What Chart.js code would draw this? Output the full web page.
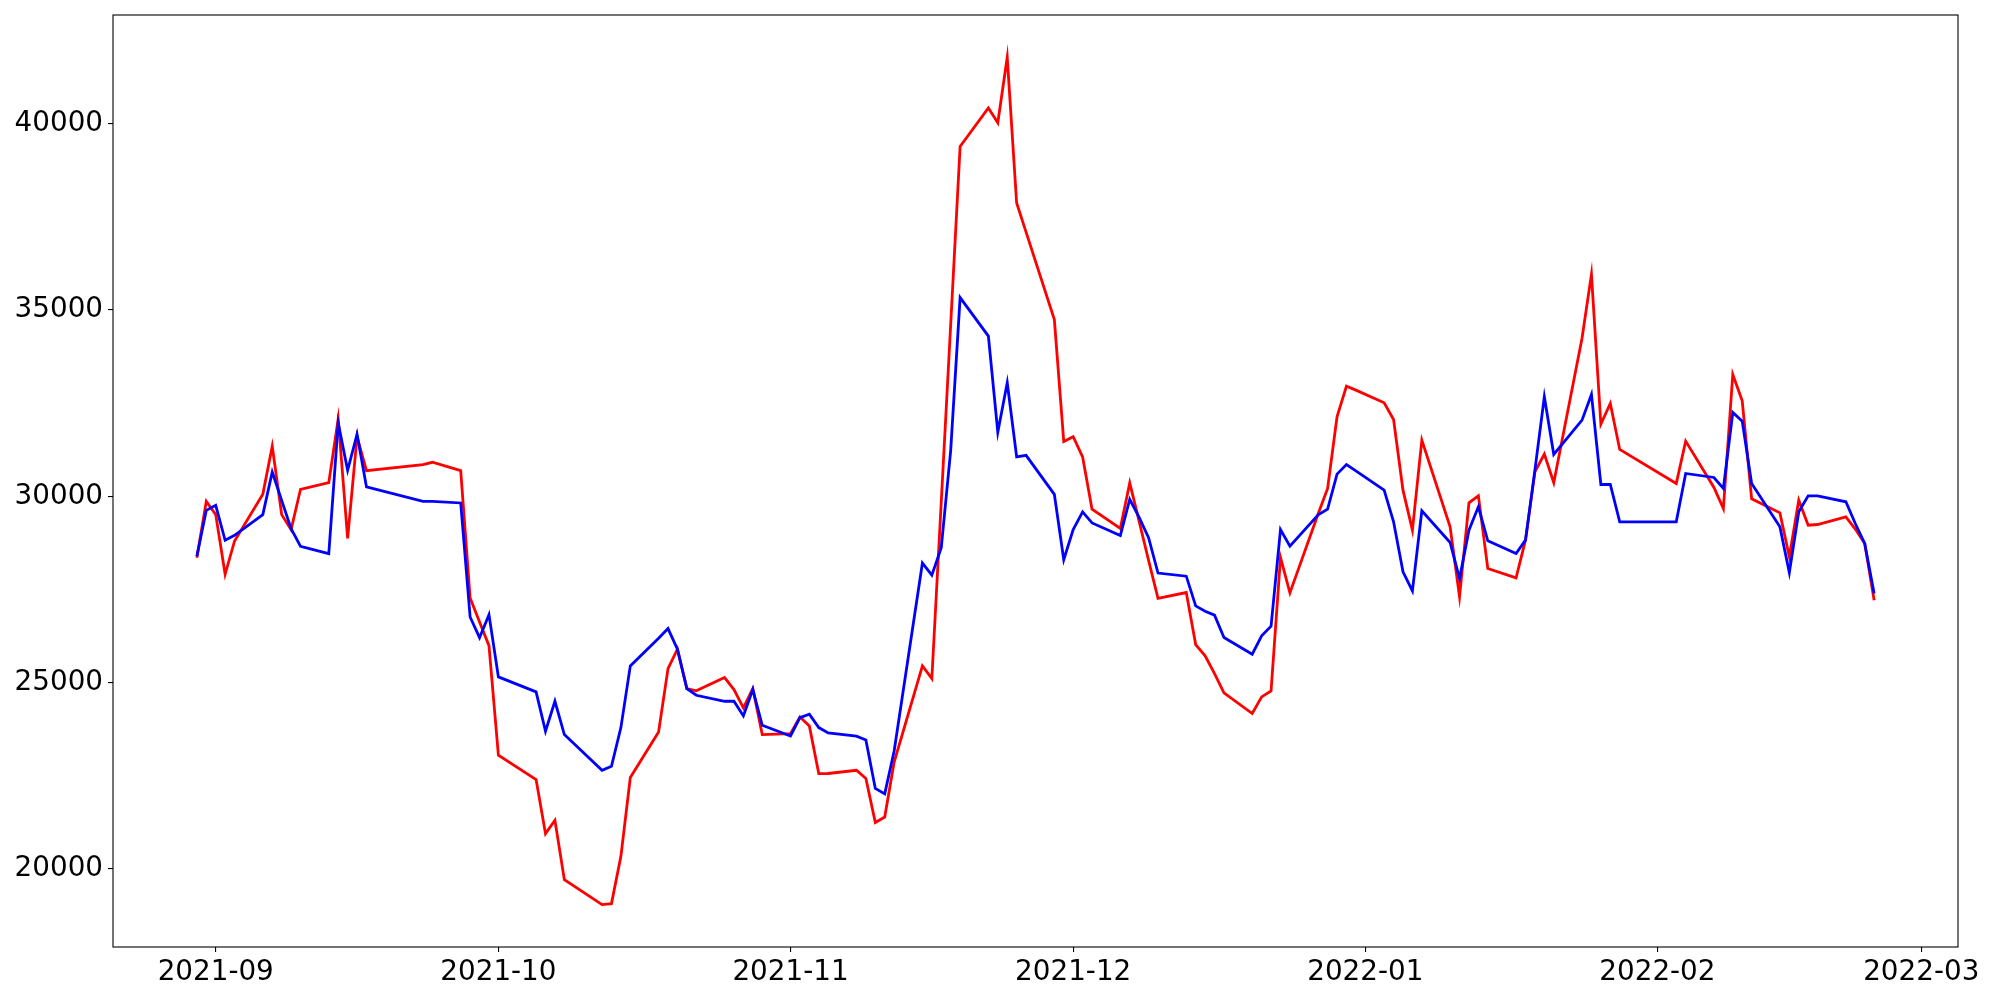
<!DOCTYPE html>
<html lang="en">

<head>
  <meta charset="UTF-8">
  <title>Chart</title>
  <script src="https://cdn.jsdelivr.net/npm/chart.js@4.4.0/dist/chart.umd.min.js"></script>
  <style>
    body { margin: 0; background: #fff; }
  </style>
</head>

<body>
  <canvas id="chart" width="2000" height="1000"></canvas>
</body>

<script>
  // trading days
  const dates = [
    '2021-08-30', '2021-08-31', '2021-09-01', '2021-09-02', '2021-09-03',
    '2021-09-06', '2021-09-07', '2021-09-08', '2021-09-09', '2021-09-10',
    '2021-09-13', '2021-09-14', '2021-09-15', '2021-09-16', '2021-09-17',
    '2021-09-23', '2021-09-24', '2021-09-27', '2021-09-28', '2021-09-29',
    '2021-09-30', '2021-10-01', '2021-10-05', '2021-10-06', '2021-10-07',
    '2021-10-08', '2021-10-12', '2021-10-13', '2021-10-14', '2021-10-15',
    '2021-10-18', '2021-10-19', '2021-10-20', '2021-10-21', '2021-10-22',
    '2021-10-25', '2021-10-26', '2021-10-27', '2021-10-28', '2021-10-29',
    '2021-11-01', '2021-11-02', '2021-11-03', '2021-11-04', '2021-11-05',
    '2021-11-08', '2021-11-09', '2021-11-10', '2021-11-11', '2021-11-12',
    '2021-11-15', '2021-11-16', '2021-11-17', '2021-11-18', '2021-11-19',
    '2021-11-22', '2021-11-23', '2021-11-24', '2021-11-25', '2021-11-26',
    '2021-11-29', '2021-11-30', '2021-12-01', '2021-12-02', '2021-12-03',
    '2021-12-06', '2021-12-07', '2021-12-08', '2021-12-09', '2021-12-10',
    '2021-12-13', '2021-12-14', '2021-12-15', '2021-12-16', '2021-12-17',
    '2021-12-20', '2021-12-21', '2021-12-22', '2021-12-23', '2021-12-24',
    '2021-12-27', '2021-12-28', '2021-12-29', '2021-12-30', '2021-12-31',
    '2022-01-03', '2022-01-04', '2022-01-05', '2022-01-06', '2022-01-07',
    '2022-01-10', '2022-01-11', '2022-01-12', '2022-01-13', '2022-01-14',
    '2022-01-17', '2022-01-18', '2022-01-19', '2022-01-20', '2022-01-21',
    '2022-01-24', '2022-01-25', '2022-01-26', '2022-01-27', '2022-01-28',
    '2022-02-03', '2022-02-04', '2022-02-07', '2022-02-08', '2022-02-09',
    '2022-02-10', '2022-02-11', '2022-02-14', '2022-02-15', '2022-02-16',
    '2022-02-17', '2022-02-18', '2022-02-21', '2022-02-22', '2022-02-23',
    '2022-02-24'
  ];

  const redValues = [
    28353, 29866, 29508, 27906, 28801,
    30054, 31343, 29508, 29105, 30188,
    30367, 32085, 28872, 31600, 30689,
    30850, 30913, 30689, 27270, 26626,
    25990, 23049, 22396, 20946, 21304,
    19711, 19040, 19067, 20337, 22450,
    23676, 25376, 25896, 24839, 24777,
    25135, 24812, 24320, 24839, 23604,
    23631, 24078, 23837, 22557, 22560,
    22646, 22425, 21245, 21392, 22867,
    25449, 25110, 29860, 34611, 39391,
    40423, 40025, 41781, 37871, 37089,
    34744, 31468, 31601, 31055, 29654,
    29137, 30359, 29329, 28281, 27260,
    27417, 26021, 25717, 25240, 24723,
    24169, 24616, 24777, 28357, 27408,
    29530, 30210, 32134, 32957, 32850,
    32510, 32062, 30165, 29091, 31508,
    29181, 27301, 29825, 30013, 28062,
    27811, 28823, 30657, 31132, 30362,
    34240, 35956, 31937, 32492, 31257,
    30344, 31481, 30237, 29673, 33271,
    32564, 29932, 29556, 28375, 29896,
    29225, 29243, 29449, 29120, 28733,
    27212
  ];

  const blueValues = [
    28389, 29624, 29758, 28819, 28953,
    29508, 30653, 29890, 29130, 28657,
    28460, 31969, 30698, 31665, 30250,
    29866, 29866, 29821, 26760, 26205,
    26823, 25153, 24750, 23694, 24499,
    23604, 22647, 22754, 23792, 25448,
    26191, 26450, 25896, 24839, 24660,
    24499, 24499, 24105, 24812, 23855,
    23568, 24060, 24150, 23792, 23650,
    23561, 23458, 22159, 22012, 23163,
    28208, 27883, 28621, 31233, 35334,
    34301, 31719, 33047, 31055, 31100,
    30052, 28296, 29108, 29580, 29285,
    28946, 29919, 29432, 28887, 27940,
    27856, 27059, 26916, 26809, 26209,
    25762, 26254, 26513, 29109, 28661,
    29500, 29655, 30595, 30854, 30684,
    30165, 29315, 27972, 27462, 29610,
    28760, 27793, 29091, 29718, 28805,
    28465, 28823, 30702, 32671, 31123,
    32044, 32734, 30317, 30317, 29315,
    29315, 30613, 30505, 30210, 32250,
    32018, 30344, 29180, 27954, 29583,
    30013, 30013, 29852, 29270, 28733,
    27390
  ];

  const monthTicks = [
    '2021-09-01', '2021-10-01', '2021-11-01', '2021-12-01',
    '2022-01-01', '2022-02-01', '2022-03-01'
  ];
  const yTicks = [20000, 25000, 30000, 35000, 40000];

  function toDay(s) {
    const p = s.split('-');
    return Date.UTC(+p[0], +p[1] - 1, +p[2]) / 86400000;
  }

  function fmtDay(d) {
    const dt = new Date(d * 86400000);
    const m = dt.getUTCMonth() + 1;
    return dt.getUTCFullYear() + '-' + (m < 10 ? '0' + m : m);
  }

  const xs = dates.map(toDay);
  const redPoints = xs.map((x, i) => ({ x: x, y: redValues[i] }));
  const bluePoints = xs.map((x, i) => ({ x: x, y: blueValues[i] }));

  // matplotlib style 5% margins
  const xSpan = xs[xs.length - 1] - xs[0];
  const xMin = xs[0] - xSpan * 0.05;
  const xMax = xs[xs.length - 1] + xSpan * 0.05;
  const allY = redValues.concat(blueValues);
  const yLo = Math.min(...allY), yHi = Math.max(...allY);
  const yMin = yLo - (yHi - yLo) * 0.05;
  const yMax = yHi + (yHi - yLo) * 0.05;

  const font = { family: 'DejaVu Sans', size: 27.8 };

  const frame = {
    id: 'frame',
    afterDraw(chart) {
      const a = chart.chartArea;
      const ctx = chart.ctx;
      ctx.save();
      ctx.strokeStyle = '#000';
      ctx.lineWidth = 1.1;
      ctx.strokeRect(a.left, a.top, a.right - a.left, a.bottom - a.top);
      ctx.restore();
    }
  };

  new Chart(document.getElementById('chart').getContext('2d'), {
    type: 'line',
    data: {
      datasets: [{
        data: bluePoints,
        borderColor: '#0000ff',
        borderWidth: 2.8,
        pointRadius: 0,
        tension: 0,
        fill: false
      }, {
        data: redPoints,
        borderColor: '#ff0000',
        borderWidth: 2.8,
        pointRadius: 0,
        tension: 0,
        fill: false
      }]
    },
    options: {
      responsive: false,
      animation: false,
      devicePixelRatio: 1,
      layout: { padding: { top: 15, right: 42, left: 0, bottom: 0 } },
      plugins: {
        legend: { display: false },
        tooltip: { enabled: false }
      },
      scales: {
        x: {
          type: 'linear',
          min: xMin,
          max: xMax,
          afterBuildTicks: (scale) => {
            scale.ticks = monthTicks.map(s => ({ value: toDay(s) }));
          },
          afterFit: (scale) => {
            scale.height = 53;
            scale.paddingLeft = 0;
            scale.paddingRight = 0;
          },
          grid: { drawOnChartArea: false, drawTicks: true, tickLength: 5, color: '#000', lineWidth: 1.1 },
          border: { display: false },
          ticks: {
            color: '#000',
            font: font,
            padding: 4,
            maxRotation: 0,
            autoSkip: false,
            callback: (v) => fmtDay(v)
          }
        },
        y: {
          min: yMin,
          max: yMax,
          afterBuildTicks: (scale) => {
            scale.ticks = yTicks.map(v => ({ value: v }));
          },
          afterFit: (scale) => {
            scale.width = 113;
            scale.paddingTop = 0;
            scale.paddingBottom = 0;
          },
          grid: { drawOnChartArea: false, drawTicks: true, tickLength: 5, color: '#000', lineWidth: 1.1 },
          border: { display: false },
          ticks: {
            color: '#000',
            font: font,
            padding: 5,
            callback: (v) => String(v)
          }
        }
      }
    },
    plugins: [frame]
  });
</script>

</html>
